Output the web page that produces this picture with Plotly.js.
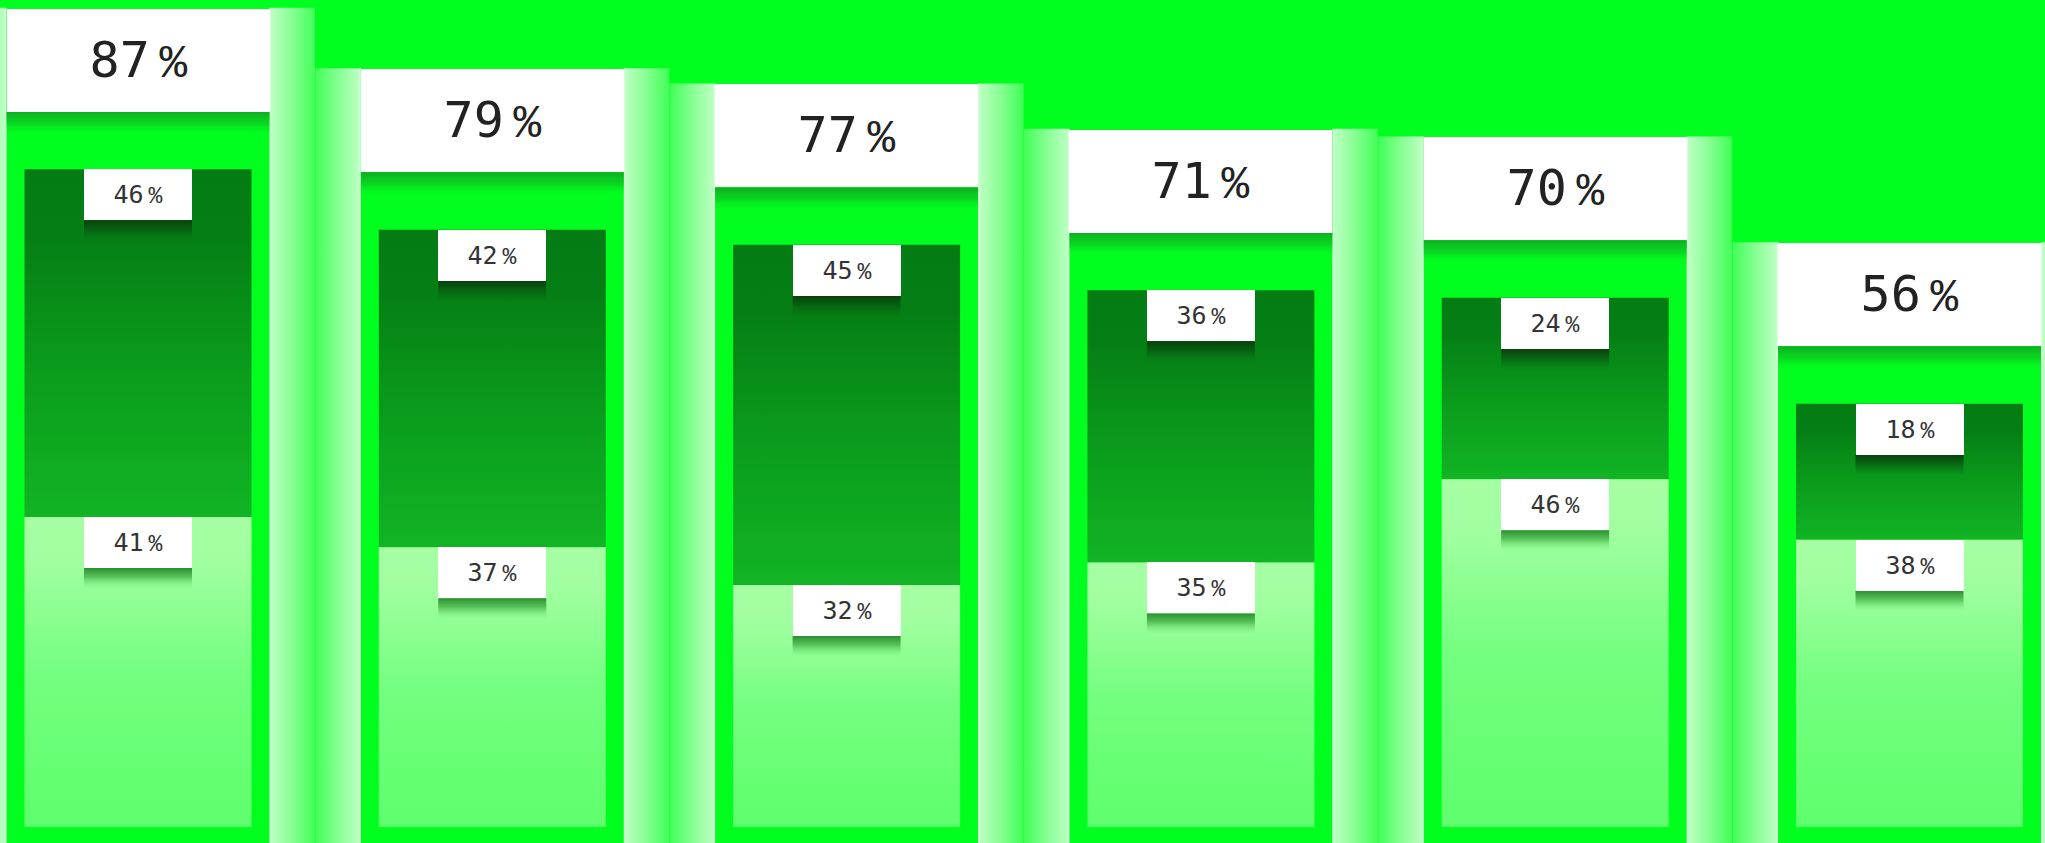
<!DOCTYPE html>
<html><head><meta charset="utf-8">
<script src="https://cdn.plot.ly/plotly-3.0.1.min.js"></script>
<style>html,body{margin:0;padding:0;background:#00ff1e;overflow:hidden}#chart{width:2045px;height:843px}</style>
</head><body><div id="chart"></div>
<script>
// ---- data ----
const categories = ['A','B','C','D','E','F'];
const totalShare = [87,79,77,71,70,56];
const darkShare  = [46,42,45,36,24,18];
const lightShare = [41,37,32,35,46,38];
const totalLabels = totalShare.map(v => v + '');
const darkLabels  = darkShare.map(v => v + '');
const lightLabels = lightShare.map(v => v + '');

// ---- geometry / style (axis units) ----
const BG = '#00ff1e';
const FONT = 'DejaVu Sans Mono';
const OUTER_W = 0.7423, INNER_W = 0.6407, HALO_W = 0.1284;
const GAP_ABOVE = 7.6, BOX_H = 13.75, LBL_H = 6.75, SHADOW_H = 2.8, BAND_H = 3.2;
const YMIN = -2.116, YMAX = 109.39;
const X0 = -0.3895, X1 = X0 + 2045/354.3;

function poly(x0,x1,y0,y1,type,scale){
  return {type:'scatter', mode:'none', x:[x0,x1,x1,x0,x0], y:[y0,y0,y1,y1,y0],
    fill:'toself', fillgradient:{type:type, colorscale:scale},
    hoverinfo:'skip', showlegend:false};
}
const traces = [];
categories.forEach((c,i) => {
  const top = totalShare[i] + GAP_ABOVE + BOX_H;
  const oL = i - OUTER_W/2, oR = i + OUTER_W/2;
  // halos
  traces.push(poly(oL - HALO_W, oL, YMIN - 2, top, 'horizontal',
    [[0,'#40ff56'],[0.5,'#86ff92'],[0.96,'#bcffc2'],[1,'#eaffec']]));
  traces.push(poly(oR, oR + HALO_W, YMIN - 2, top, 'horizontal',
    [[0,'#eaffec'],[0.04,'#bcffc2'],[0.5,'#86ff92'],[1,'#40ff56']]));
  // noisy band under big box
  const bTop = totalShare[i] + GAP_ABOVE;
  traces.push(poly(oL, oR, bTop - BAND_H, bTop, 'vertical',
    [[0,'rgba(0,255,30,0)'],[0.5,'rgba(16,190,36,0.6)'],[1,'rgba(14,170,32,0.95)']]));
  // dark segment
  const iL = i - INNER_W/2, iR = i + INNER_W/2;
  traces.push(poly(iL, iR, lightShare[i], lightShare[i] + darkShare[i], 'vertical',
    [[0,'#12b425'],[0.45,'#0a9a1b'],[0.8,'#057f15'],[1,'#047c13']]));
  // light segment
  traces.push(poly(iL, iR, 0, lightShare[i], 'vertical',
    [[0,'#5eff6c'],[0.5,'#74ff80'],[0.86,'#a2ffa0'],[1,'#a6ffa3']]));
  // shadows under small labels
  const lw = 0.3048/2;
  const d0 = totalShare[i] - LBL_H;
  traces.push(poly(i - lw, i + lw, d0 - SHADOW_H, d0, 'vertical',
    [[0,'rgba(5,110,18,0)'],[0.6,'rgba(8,80,14,0.7)'],[1,'rgba(10,60,12,0.95)']]));
  const l0 = lightShare[i] - LBL_H;
  traces.push(poly(i - lw, i + lw, l0 - SHADOW_H, l0, 'vertical',
    [[0,'rgba(120,240,120,0)'],[0.6,'rgba(40,150,45,0.6)'],[1,'rgba(30,130,36,0.9)']]));
});

const NB = '\u00a0';
const bigPct = '<span style="font-size:16px">' + NB + '</span><span style="font-family:Liberation Mono;font-size:46px">%</span>';
const smallPct = '<span style="font-size:8px">' + NB + '</span><span style="font-family:Liberation Mono;font-size:23px">%</span>';
const annotations = [];
categories.forEach((c,i) => {
  annotations.push({x:i, y:totalShare[i] + GAP_ABOVE, xref:'x', yref:'y',
    xanchor:'center', yanchor:'bottom', showarrow:false,
    text: totalLabels[i] + bigPct,
    font:{family:FONT, size:50, color:'#222222'},
    bgcolor:'#ffffff', width:263, height:103, borderpad:0, borderwidth:0, valign:'middle'});
  annotations.push({x:i, y:totalShare[i], xref:'x', yref:'y',
    xanchor:'center', yanchor:'top', showarrow:false,
    text: darkLabels[i] + smallPct,
    font:{family:FONT, size:25, color:'#333333'},
    bgcolor:'#ffffff', width:108, height:51, borderpad:0, borderwidth:0, valign:'middle'});
  annotations.push({x:i, y:lightShare[i], xref:'x', yref:'y',
    xanchor:'center', yanchor:'top', showarrow:false,
    text: lightLabels[i] + smallPct,
    font:{family:FONT, size:25, color:'#333333'},
    bgcolor:'#ffffff', width:108, height:51, borderpad:0, borderwidth:0, valign:'middle'});
});

const layout = {
  width:2045, height:843, margin:{l:0,r:0,t:0,b:0,pad:0},
  paper_bgcolor:BG, plot_bgcolor:BG, showlegend:false,
  xaxis:{range:[X0,X1], visible:false, fixedrange:true},
  yaxis:{range:[YMIN,YMAX], visible:false, fixedrange:true},
  annotations:annotations
};
Plotly.newPlot('chart', traces, layout, {staticPlot:true, displayModeBar:false});
</script></body></html>
